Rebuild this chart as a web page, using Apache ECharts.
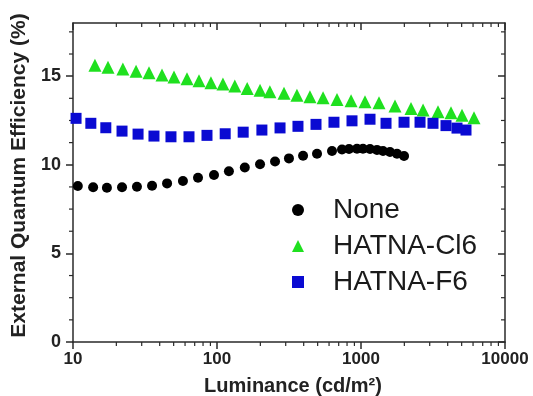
<!DOCTYPE html>
<html>
<head>
<meta charset="utf-8">
<script src="https://cdn.jsdelivr.net/npm/echarts@6/dist/echarts.min.js"></script>
<style>
  html, body { margin: 0; padding: 0; background: #fff; }
  #chart { width: 533px; height: 396px; }
</style>
</head>
<body>
<div id="chart"></div>
<script>
// luminance (cd/m2) and EQE (%)
var noneLum = [10.8, 13.8, 17.2, 21.9, 27.8, 35.4, 45.0, 58.0, 73.8, 95.3, 121, 156, 199, 253, 316, 396, 495, 629, 738, 826, 938, 1032, 1155, 1291, 1422, 1589, 1778, 1990];
var noneEqe = [8.8, 8.73, 8.7, 8.73, 8.76, 8.82, 8.95, 9.08, 9.27, 9.42, 9.63, 9.85, 10.03, 10.19, 10.36, 10.51, 10.62, 10.78, 10.86, 10.89, 10.9, 10.9, 10.89, 10.84, 10.78, 10.72, 10.62, 10.5];

var clLum = [14.2, 17.5, 22.2, 27.4, 33.7, 41.5, 50.3, 61.9, 75.0, 90.8, 110, 133, 162, 199, 233, 292, 359, 442, 545, 681, 853, 1066, 1334, 1722, 2224, 2697, 3424, 4217, 5026, 6092];
var clEqe = [15.62, 15.5, 15.4, 15.28, 15.19, 15.06, 14.96, 14.85, 14.74, 14.63, 14.56, 14.44, 14.31, 14.21, 14.12, 14.03, 13.93, 13.84, 13.78, 13.69, 13.61, 13.55, 13.5, 13.31, 13.18, 13.09, 12.99, 12.93, 12.8, 12.65];

var fLum = [10.5, 13.3, 16.9, 21.9, 28.3, 36.5, 47.9, 63.9, 85.2, 114, 152, 205, 274, 365, 487, 649, 866, 1155, 1492, 1990, 2570, 3162, 3892, 4642, 5360];
var fEqe = [12.62, 12.34, 12.09, 11.9, 11.73, 11.62, 11.58, 11.58, 11.66, 11.75, 11.84, 11.96, 12.08, 12.17, 12.28, 12.4, 12.48, 12.57, 12.34, 12.4, 12.4, 12.34, 12.21, 12.07, 11.96];

var xMinorTicks = [20, 30, 40, 50, 60, 70, 80, 90, 200, 300, 400, 500, 600, 700, 800, 900, 2000, 3000, 4000, 5000, 6000, 7000, 8000, 9000];
var yMajorTicks = [0, 5, 10, 15];
var yMinorTicks = [1.25, 2.5, 3.75, 6.25, 7.5, 8.75, 11.25, 12.5, 13.75, 16.25, 17.5];

var xMin = 10, xMax = 10000, yMin = 0, yMax = 18;
var axisColor = '#2a2a2a';
var font = 'Arial, "Liberation Sans", sans-serif';

function pairs(xs, ys) {
    var out = [];
    for (var i = 0; i < xs.length; i++) out.push([xs[i], ys[i]]);
    return out;
}

// minor ticks (log 2..9 on x, quarter steps on y) drawn through the axes' scales
var tickData = [];
xMinorTicks.forEach(function (v) { tickData.push([v, 'x']); });
yMinorTicks.forEach(function (v) { tickData.push([v, 'y']); });

function renderTick(params, api) {
    var v = tickData[params.dataIndex][0];
    var kind = tickData[params.dataIndex][1];
    var len = 4;
    var style = { stroke: axisColor, lineWidth: 1.2 };
    if (kind === 'x') {
        var b = api.coord([v, yMin]);
        var t = api.coord([v, yMax]);
        return { type: 'group', children: [
            { type: 'line', shape: { x1: b[0], y1: b[1], x2: b[0], y2: b[1] + len }, style: style },
            { type: 'line', shape: { x1: t[0], y1: t[1], x2: t[0], y2: t[1] + len }, style: style }
        ]};
    }
    var l = api.coord([xMin, v]);
    var r = api.coord([xMax, v]);
    return { type: 'group', children: [
        { type: 'line', shape: { x1: l[0] - len, y1: l[1], x2: l[0], y2: l[1] }, style: style },
        { type: 'line', shape: { x1: r[0] - len, y1: r[1], x2: r[0], y2: r[1] }, style: style }
    ]};
}

var chart = echarts.init(document.getElementById('chart'), null, { renderer: 'canvas' });

chart.setOption({
    animation: false,
    backgroundColor: '#fff',
    grid: { left: 73, right: 28, top: 23, bottom: 54, outerBoundsMode: 'none', containLabel: false },
    legend: {
        orient: 'vertical',
        left: 287,
        top: 190,
        itemWidth: 12,
        itemHeight: 12,
        itemGap: 6,
        textStyle: { fontFamily: font, fontSize: 28, color: '#1a1a1a', lineHeight: 30, padding: [0, 0, 0, 24] },
        data: ['None', 'HATNA-Cl6', 'HATNA-F6']
    },
    xAxis: [{
        type: 'log',
        logBase: 10,
        min: xMin,
        max: xMax,
        position: 'bottom',
        name: 'Luminance (cd/m²)',
        nameLocation: 'middle',
        nameGap: 34,
        nameTextStyle: { fontFamily: font, fontSize: 20, fontWeight: 'bold', color: '#222', padding: [0, 0, 0, 8] },
        axisLine: { onZero: false, lineStyle: { color: axisColor, width: 1.5 } },
        axisTick: { show: true, inside: false, length: 7, lineStyle: { color: axisColor, width: 1.5 } },
        axisLabel: {
            fontFamily: font, fontSize: 17, fontWeight: 'bold', color: '#222', margin: 9,
            formatter: function (v) { return String(Math.round(v)); }
        },
        splitLine: { show: false }
    }, {
        type: 'log',
        logBase: 10,
        min: xMin,
        max: xMax,
        position: 'top',
        axisLine: { onZero: false, lineStyle: { color: axisColor, width: 1.5 } },
        axisTick: { show: true, inside: true, length: 7, lineStyle: { color: axisColor, width: 1.5 } },
        axisLabel: { show: false },
        splitLine: { show: false }
    }],
    yAxis: [{
        type: 'value',
        min: yMin,
        max: yMax,
        interval: 5,
        position: 'left',
        name: 'External Quantum Efficiency (%)',
        nameLocation: 'middle',
        nameGap: 34,
        nameTextStyle: { fontFamily: font, fontSize: 21, fontWeight: 'bold', color: '#222', padding: [0, 0, 0, 14] },
        axisLine: { show: true, onZero: false, lineStyle: { color: axisColor, width: 1.5 } },
        axisTick: { show: true, inside: false, length: 7, customValues: yMajorTicks, lineStyle: { color: axisColor, width: 1.5 } },
        axisLabel: { fontFamily: font, fontSize: 18, fontWeight: 'bold', color: '#222', margin: 12, customValues: yMajorTicks },
        splitLine: { show: false }
    }, {
        type: 'value',
        min: yMin,
        max: yMax,
        interval: 5,
        position: 'right',
        axisLine: { show: true, onZero: false, lineStyle: { color: axisColor, width: 1.5 } },
        axisTick: { show: true, inside: true, length: 7, customValues: yMajorTicks, lineStyle: { color: axisColor, width: 1.5 } },
        axisLabel: { show: false },
        splitLine: { show: false }
    }],
    series: [{
        name: 'None',
        type: 'scatter',
        symbol: 'circle',
        symbolSize: 10,
        itemStyle: { color: '#000', opacity: 1 },
        data: pairs(noneLum, noneEqe)
    }, {
        name: 'HATNA-Cl6',
        type: 'scatter',
        symbol: 'triangle',
        symbolSize: 13,
        itemStyle: { color: '#1fe01f', opacity: 1 },
        data: pairs(clLum, clEqe)
    }, {
        name: 'HATNA-F6',
        type: 'scatter',
        symbol: 'rect',
        symbolSize: 11,
        itemStyle: { color: '#0a0ad2', opacity: 1 },
        data: pairs(fLum, fEqe)
    }, {
        type: 'custom',
        silent: true,
        clip: false,
        renderItem: renderTick,
        encode: { x: -1, y: -1 },
        data: tickData.map(function (d, i) { return [i]; })
    }]
});
</script>
</body>
</html>
